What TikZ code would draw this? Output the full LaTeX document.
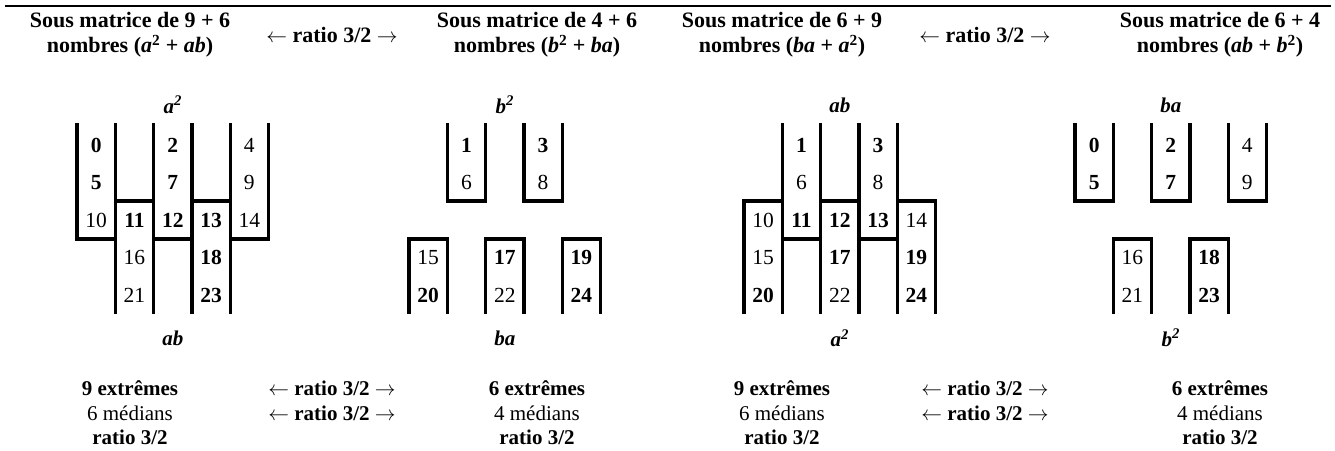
\documentclass[tikz,border=0pt]{standalone}
\usepackage{fontspec}
\setmainfont{Liberation Serif}
\newcommand\fsz{\fontsize{21}{24.5}\selectfont}
\newcommand\hsz{\fontsize{22}{25}\selectfont}
\newcommand\nsz{\fontsize{21.5}{25}\selectfont}
\newcommand\sq{\textsuperscript{2}}
\newcommand\la{$\leftarrow$}
\newcommand\ra{$\rightarrow$}
\begin{document}
\begin{tikzpicture}[x=1pt,y=-1pt,
  wall/.style={line width=3.3pt, line join=miter},
  num/.style={font=\nsz, inner sep=0pt},
  bnum/.style={font=\nsz\bfseries, inner sep=0pt},
  lbl/.style={font=\fsz\bfseries\itshape, inner sep=0pt},
  hdr/.style={font=\hsz\bfseries, align=center, inner sep=0pt},
  foot/.style={font=\fsz, align=center, inner sep=0pt},
  rule/.style={line width=1.5pt}]
\useasboundingbox (0,0) rectangle (1335,450);
% top rule
\coordinate (ruleL) at (5,6);
\coordinate (ruleR) at (1331,6);
\draw[rule] (ruleL) -- (ruleR);
% headers
\node[hdr] (h1) at (130,35) {Sous matrice de 9 + 6\\nombres (\textit{a}\sq{} + \textit{ab})};
\node[hdr] (ra1) at (332,35) {\la{} ratio 3/2 \ra};
\node[hdr] (h2) at (537,35) {Sous matrice de 4 + 6\\nombres (\textit{b}\sq{} + \textit{ba})};
\node[hdr] (h3) at (782,35) {Sous matrice de 6 + 9\\nombres (\textit{ba} + \textit{a}\sq)};
\node[hdr] (ra2) at (985,35) {\la{} ratio 3/2 \ra};
\node[hdr] (h4) at (1220,35) {Sous matrice de 6 + 4\\nombres (\textit{ab} + \textit{b}\sq)};
% footers
\node[foot] (f1) at (130,413) {\textbf{9 extrêmes}\\6 médians\\\textbf{ratio 3/2}};
\node[foot] (fa1) at (332,401) {\la{} \textbf{ratio 3/2} \ra\\\la{} \textbf{ratio 3/2} \ra};
\node[foot] (f2) at (537,413) {\textbf{6 extrêmes}\\4 médians\\\textbf{ratio 3/2}};
\node[foot] (f3) at (782,413) {\textbf{9 extrêmes}\\6 médians\\\textbf{ratio 3/2}};
\node[foot] (fa2) at (985,401) {\la{} \textbf{ratio 3/2} \ra\\\la{} \textbf{ratio 3/2} \ra};
\node[foot] (f4) at (1220,413) {\textbf{6 extrêmes}\\4 médians\\\textbf{ratio 3/2}};
% ---------- panel 1
\begin{scope}[shift={(77,0)}, x=38.3pt]
\draw[wall] (0,123)--(0,239)--(1,239)--(1,123);
\draw[wall] (2,123)--(2,239)--(3,239)--(3,123);
\draw[wall] (4,123)--(4,239)--(5,239)--(5,123);
\draw[wall] (1,314)--(1,201)--(2,201)--(2,314);
\draw[wall] (3,314)--(3,201)--(4,201)--(4,314);
\node[lbl] (p1t) at (2.5,105) {a\sq};
\node[lbl] (p1b) at (2.5,338) {ab};
\node[bnum] (p1n0) at (0.5,145) {0};
\node[bnum] (p1n5) at (0.5,182.6) {5};
\node[num]  (p1n10) at (0.5,220.2) {10};
\node[bnum] (p1n2) at (2.5,145) {2};
\node[bnum] (p1n7) at (2.5,182.6) {7};
\node[bnum] (p1n12) at (2.5,220.2) {12};
\node[num]  (p1n4) at (4.5,145) {4};
\node[num]  (p1n9) at (4.5,182.6) {9};
\node[num]  (p1n14) at (4.5,220.2) {14};
\node[bnum] (p1n11) at (1.5,220.2) {11};
\node[num]  (p1n16) at (1.5,257.8) {16};
\node[num]  (p1n21) at (1.5,295.4) {21};
\node[bnum] (p1n13) at (3.5,220.2) {13};
\node[bnum] (p1n18) at (3.5,257.8) {18};
\node[bnum] (p1n23) at (3.5,295.4) {23};
\end{scope}
% ---------- panel 2
\begin{scope}[shift={(409,0)}, x=38.3pt]
\draw[wall] (1,123)--(1,201)--(2,201)--(2,123);
\draw[wall] (3,123)--(3,201)--(4,201)--(4,123);
\draw[wall] (0,314)--(0,239)--(1,239)--(1,314);
\draw[wall] (2,314)--(2,239)--(3,239)--(3,314);
\draw[wall] (4,314)--(4,239)--(5,239)--(5,314);
\node[lbl] (p2t) at (2.5,105) {b\sq};
\node[lbl] (p2b) at (2.5,338) {ba};
\node[bnum] (p2n1) at (1.5,145) {1};
\node[num]  (p2n6) at (1.5,182.6) {6};
\node[bnum] (p2n3) at (3.5,145) {3};
\node[num]  (p2n8) at (3.5,182.6) {8};
\node[num]  (p2n15) at (0.5,257.8) {15};
\node[bnum] (p2n20) at (0.5,295.4) {20};
\node[bnum] (p2n17) at (2.5,257.8) {17};
\node[num]  (p2n22) at (2.5,295.4) {22};
\node[bnum] (p2n19) at (4.5,257.8) {19};
\node[bnum] (p2n24) at (4.5,295.4) {24};
\end{scope}
% ---------- panel 3
\begin{scope}[shift={(744,0)}, x=38.3pt]
\draw[wall] (1,123)--(1,239)--(2,239)--(2,123);
\draw[wall] (3,123)--(3,239)--(4,239)--(4,123);
\draw[wall] (0,314)--(0,201)--(1,201)--(1,314);
\draw[wall] (2,314)--(2,201)--(3,201)--(3,314);
\draw[wall] (4,314)--(4,201)--(5,201)--(5,314);
\node[lbl] (p3t) at (2.5,105) {ab};
\node[lbl] (p3b) at (2.5,338) {a\sq};
\node[bnum] (p3n1) at (1.5,145) {1};
\node[num]  (p3n6) at (1.5,182.6) {6};
\node[bnum] (p3n11) at (1.5,220.2) {11};
\node[bnum] (p3n3) at (3.5,145) {3};
\node[num]  (p3n8) at (3.5,182.6) {8};
\node[bnum] (p3n13) at (3.5,220.2) {13};
\node[num]  (p3n10) at (0.5,220.2) {10};
\node[num]  (p3n15) at (0.5,257.8) {15};
\node[bnum] (p3n20) at (0.5,295.4) {20};
\node[bnum] (p3n12) at (2.5,220.2) {12};
\node[bnum] (p3n17) at (2.5,257.8) {17};
\node[num]  (p3n22) at (2.5,295.4) {22};
\node[num]  (p3n14) at (4.5,220.2) {14};
\node[bnum] (p3n19) at (4.5,257.8) {19};
\node[bnum] (p3n24) at (4.5,295.4) {24};
\end{scope}
% ---------- panel 4
\begin{scope}[shift={(1075,0)}, x=38.3pt]
\draw[wall] (0,123)--(0,201)--(1,201)--(1,123);
\draw[wall] (2,123)--(2,201)--(3,201)--(3,123);
\draw[wall] (4,123)--(4,201)--(5,201)--(5,123);
\draw[wall] (1,314)--(1,239)--(2,239)--(2,314);
\draw[wall] (3,314)--(3,239)--(4,239)--(4,314);
\node[lbl] (p4t) at (2.5,105) {ba};
\node[lbl] (p4b) at (2.5,338) {b\sq};
\node[bnum] (p4n0) at (0.5,145) {0};
\node[bnum] (p4n5) at (0.5,182.6) {5};
\node[bnum] (p4n2) at (2.5,145) {2};
\node[bnum] (p4n7) at (2.5,182.6) {7};
\node[num]  (p4n4) at (4.5,145) {4};
\node[num]  (p4n9) at (4.5,182.6) {9};
\node[num]  (p4n16) at (1.5,257.8) {16};
\node[num]  (p4n21) at (1.5,295.4) {21};
\node[bnum] (p4n18) at (3.5,257.8) {18};
\node[bnum] (p4n23) at (3.5,295.4) {23};
\end{scope}
\end{tikzpicture}
\end{document}
